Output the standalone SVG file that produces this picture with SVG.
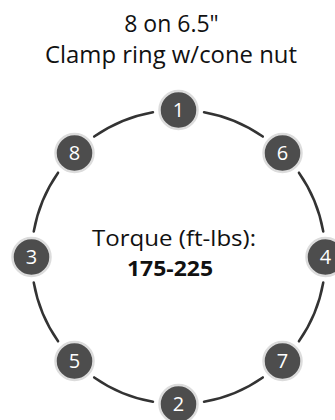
<svg xmlns="http://www.w3.org/2000/svg" width="335" height="420" viewBox="0 0 335 420">
<style>
.t{font-family:"Open Sans","Liberation Sans",sans-serif;fill:#111;text-anchor:middle}
.n circle{fill:#4d4d4d;stroke:#dcdcdc;stroke-width:2.5}
.n text{font-family:"Open Sans","Liberation Sans",sans-serif;font-size:20px;fill:#fff;text-anchor:middle}
#connectors path{fill:none;stroke:#333;stroke-width:2.5;stroke-linecap:round}
</style>
<rect width="335" height="420" fill="#fff"/>
<g id="title">
<text class="t" x="171.5" y="32" font-size="23">8 on 6.5"</text>
<text class="t" x="171" y="63" font-size="23" textLength="252" lengthAdjust="spacingAndGlyphs">Clamp ring w/cone nut</text>
</g>
<g id="connectors">
<path d="M323.27,231.47 A147,147 0 0 0 298.92,172.68"/>
<path d="M262.82,136.58 A147,147 0 0 0 204.03,112.23"/>
<path d="M152.97,112.23 A147,147 0 0 0 94.18,136.58"/>
<path d="M58.08,172.68 A147,147 0 0 0 33.73,231.47"/>
<path d="M33.73,282.53 A147,147 0 0 0 58.08,341.32"/>
<path d="M94.18,377.42 A147,147 0 0 0 152.97,401.77"/>
<path d="M204.03,401.77 A147,147 0 0 0 262.82,377.42"/>
<path d="M298.92,341.32 A147,147 0 0 0 323.27,282.53"/>
</g>
<g id="n1" class="n"><circle cx="178.5" cy="110" r="19"/><text x="178.5" y="117">1</text></g>
<g id="n6" class="n"><circle cx="282.5" cy="153" r="19"/><text x="282.5" y="160">6</text></g>
<g id="n4" class="n"><circle cx="325.5" cy="257" r="19"/><text x="325.5" y="264">4</text></g>
<g id="n7" class="n"><circle cx="282.5" cy="361" r="19"/><text x="282.5" y="368">7</text></g>
<g id="n2" class="n"><circle cx="178.5" cy="404" r="19"/><text x="178.5" y="411">2</text></g>
<g id="n5" class="n"><circle cx="74.5" cy="361" r="19"/><text x="74.5" y="368">5</text></g>
<g id="n3" class="n"><circle cx="31.5" cy="257" r="19"/><text x="31.5" y="264">3</text></g>
<g id="n8" class="n"><circle cx="74.5" cy="153" r="19"/><text x="74.5" y="160">8</text></g>
<g id="center">
<text class="t" x="174" y="246" font-size="22" textLength="164" lengthAdjust="spacingAndGlyphs">Torque (ft-lbs):</text>
<text class="t" x="170" y="276" font-size="22" font-weight="bold" textLength="86" lengthAdjust="spacingAndGlyphs">175-225</text>
</g>
</svg>
